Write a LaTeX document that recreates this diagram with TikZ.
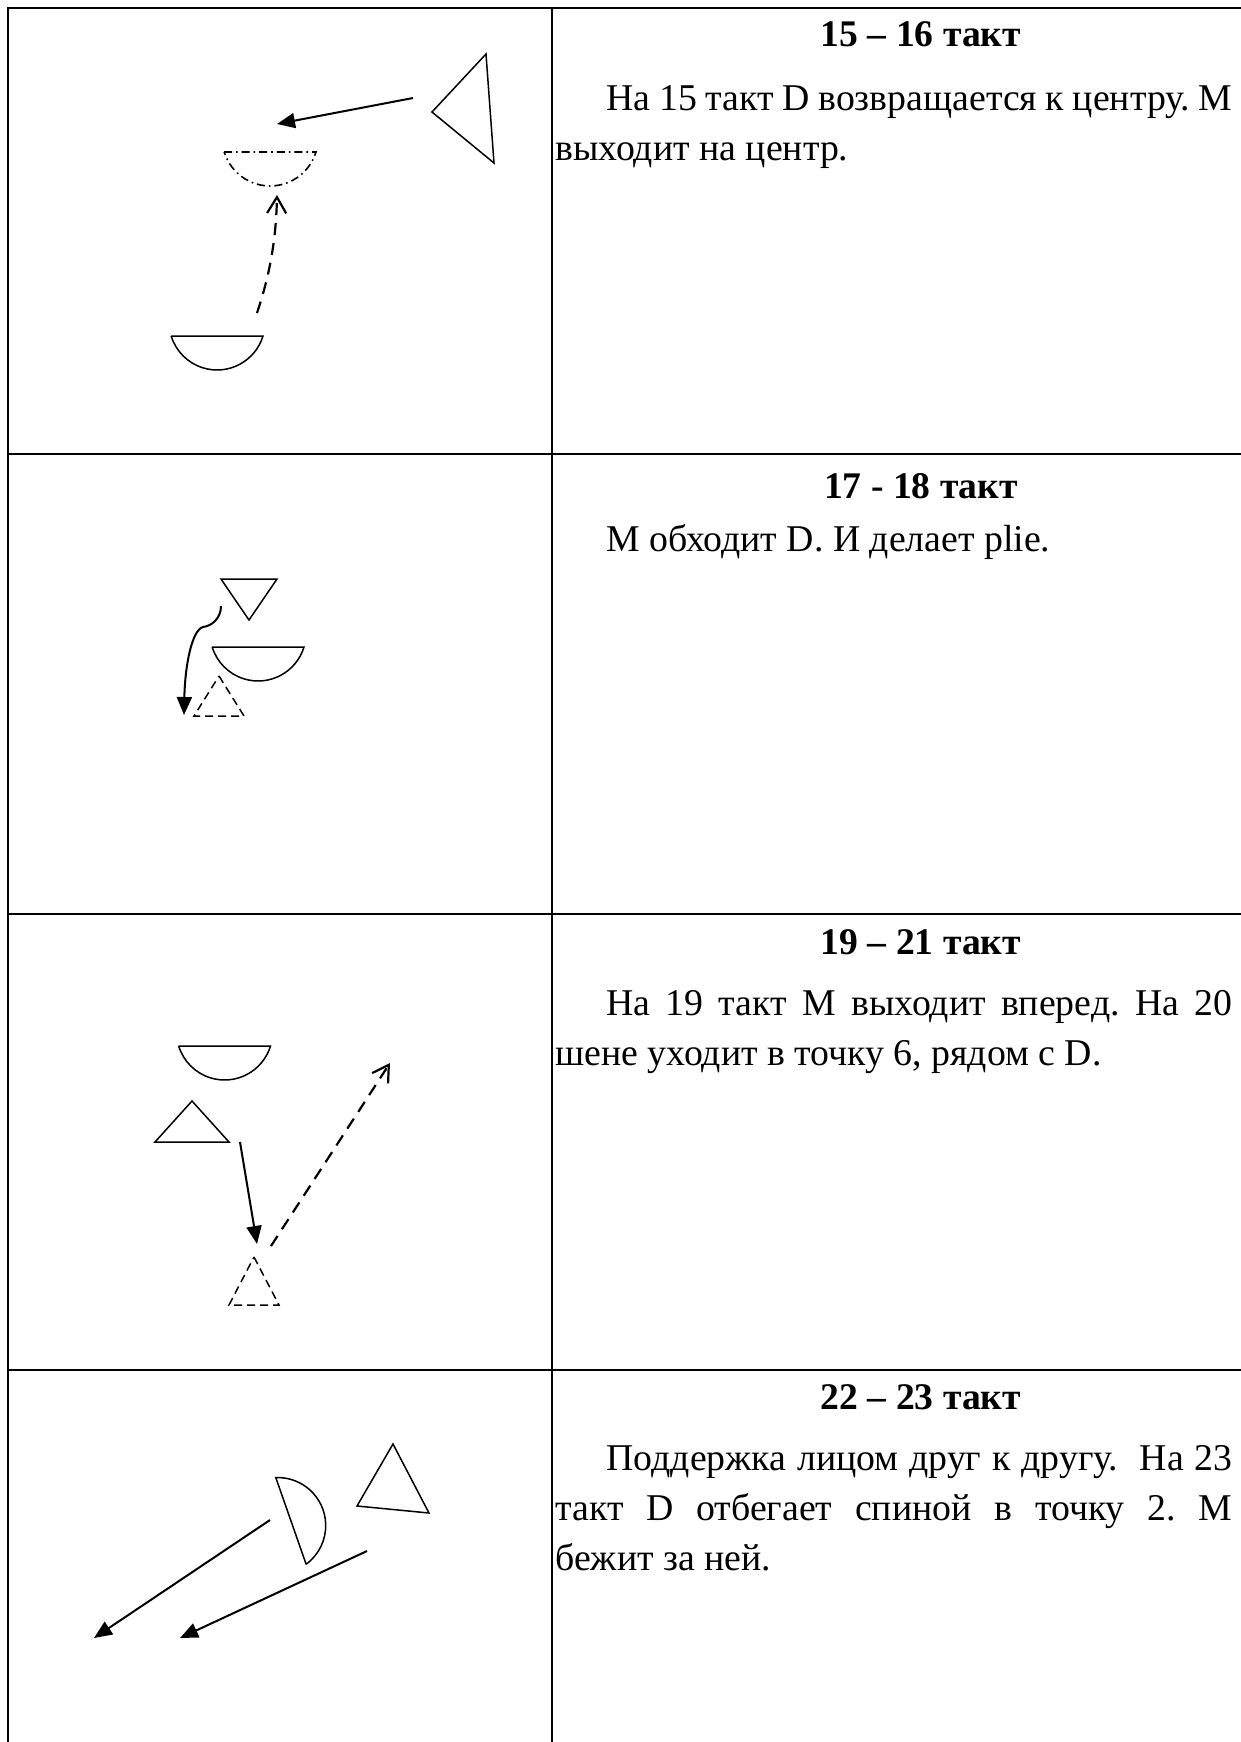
\documentclass[tikz,border=0pt]{standalone}
\usepackage{fontspec}
\setmainfont{Liberation Serif}
\usetikzlibrary{arrows.meta}
\newcommand\txtsize{\fontsize{18.9pt}{25pt}\selectfont\frenchspacing}
\newcommand\hdsize{\fontsize{18.8pt}{25pt}\selectfont}
\begin{document}
\begin{tikzpicture}[x=0.5pt,y=-0.5pt,
  frame/.style={line width=1pt},
  fig/.style={line width=0.75pt, line join=miter},
  ghost/.style={line width=0.75pt, dash pattern=on 4pt off 2.5pt},
  ddot/.style={line width=0.8pt, dash pattern=on 4pt off 2pt on 0.8pt off 2pt},
  move/.style={line width=1pt, -{Triangle[length=9pt,width=7.5pt]}},
  plan/.style={line width=1.1pt, dash pattern=on 6pt off 4pt, -{Straight Barb[length=8pt,width=9.5pt]}},
  head/.style={anchor=base, inner sep=0pt, font=\bfseries\hdsize},
  body/.style={anchor=base west, inner sep=0pt, font=\txtsize},
  bowl/.pic={\draw (-46,0) -- (46,0) arc[start angle=17,end angle=163,radius=48] -- cycle;}
]
\useasboundingbox (0,0) rectangle (1241,1742);
% table
\draw[frame] (8,1760) -- (8,8) -- (1270,8);
\draw[frame] (552,8) -- (552,1760);
\draw[frame] (8,454) -- (1270,454);
\draw[frame] (8,914) -- (1270,914);
\draw[frame] (8,1370) -- (1270,1370);

% ---------- panel 1 ----------
\draw[fig] (486,54) -- (432,112) -- (494,163) -- cycle;
\pic[ddot] at (270,152) {bowl};
\pic[fig] at (217,336) {bowl};
\coordinate (p1a) at (413,98);
\coordinate (p1b) at (277,124);
\draw[move] (p1a) -- (p1b);
\coordinate (p1c) at (257,313);
\coordinate (p1d) at (277,195);
\draw[plan] (p1c) .. controls (268,280) and (276,245) .. (p1d);
\node[head] (t1) at (921,46) {15 – 16 такт};
\node[body] (a1) at (606,110) {\makebox[313pt][s]{На 15 такт D возвращается к центру. М}};
\node[body] (a2) at (555,160) {выходит на центр.};

% ---------- panel 2 ----------
\draw[fig] (221,579) -- (277,579) -- (249,620) -- cycle;
\pic[fig] at (258,647) {bowl};
\draw[ghost] (219,676) -- (244,716) -- (194,716) -- cycle;
\coordinate (p2a) at (221,606);
\coordinate (p2k) at (203,627);
\coordinate (p2b) at (184,715);
\draw[move] (p2a) .. controls (221,618) and (212,626) .. (p2k) .. controls (192,630) and (185,665) .. (p2b);
\node[head] (t2) at (921,498) {17 - 18 такт};
\node[body] (b1) at (606,551) {М обходит D. И делает plie.};

% ---------- panel 3 ----------
\pic[fig] at (224.5,1046) {bowl};
\draw[fig] (192,1101) -- (229,1142) -- (155,1142) -- cycle;
\draw[ghost] (254,1257) -- (279,1305) -- (229,1305) -- cycle;
\coordinate (p3a) at (240,1142);
\coordinate (p3b) at (257,1244);
\draw[move] (p3a) -- (p3b);
\coordinate (p3c) at (271,1246);
\coordinate (p3d) at (390,1063);
\draw[plan] (p3c) -- (p3d);
\node[head] (t3) at (921,954) {19 – 21 такт};
\node[body] (c1) at (606,1015) {\makebox[313pt][s]{На 19 такт М выходит вперед. На 20}};
\node[body] (c2) at (555,1065) {шене уходит в точку 6, рядом с D.};

% ---------- panel 4 ----------
\draw[fig] (393,1444) -- (429,1513) -- (357,1506) -- cycle;
\pic[fig, rotate=109.3] at (291,1521) {bowl};
\coordinate (p4a) at (270,1520);
\coordinate (p4b) at (94,1638);
\coordinate (p4c) at (367,1551);
\coordinate (p4d) at (180,1638);
\draw[move] (p4a) -- (p4b);
\draw[move] (p4c) -- (p4d);
\node[head] (t4) at (921,1409) {22 – 23 такт};
\node[body] (d1) at (606,1470) {\makebox[313pt][s]{Поддержка лицом друг к другу.\ \ На 23}};
\node[body] (d2) at (555,1520) {\makebox[338.5pt][s]{такт D отбегает спиной в точку 2. М}};
\node[body] (d3) at (555,1570) {бежит за ней.};
\end{tikzpicture}
\end{document}
